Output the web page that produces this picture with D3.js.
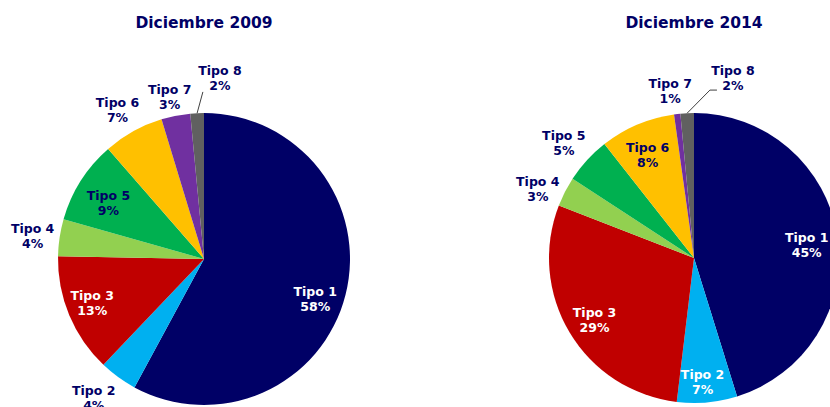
<!DOCTYPE html>
<html>
<head>
<meta charset="utf-8">
<script src="https://cdn.jsdelivr.net/npm/d3@7"></script>
<style>
  body { margin: 0; background: #fff; }
  text { font-family: "DejaVu Sans", Verdana, sans-serif; font-weight: bold; }
</style>
</head>
<body>
<script>
var tipos = ["Tipo 1", "Tipo 2", "Tipo 3", "Tipo 4", "Tipo 5", "Tipo 6", "Tipo 7", "Tipo 8"];
var valores2009 = [57.9, 4.2, 13.2, 4.1, 9.2, 6.7, 3.2, 1.5];
var valores2014 = [45.2, 6.7, 29.0, 3.3, 5.2, 8.4, 0.7, 1.5];
var titulos = ["Diciembre 2009", "Diciembre 2014"];
var colores = ["#000066", "#00b0f0", "#c00000", "#92d050", "#00b050", "#ffc000", "#7030a0", "#606060"];

var width = 830, height = 407;
var svg = d3.select("body").append("svg")
    .attr("width", width)
    .attr("height", height);

// etiquetas: dentro (true) o fuera, ajustes finos
var charts = [
  { titulo: titulos[0], valores: valores2009, cx: 204, cy: 259, r: 146,
    dentro: [true, false, true, false, true, false, false, false],
    blanco: [true, false, true, false, false, false, false, false],
    ajuste: [[-2, 11], [-9, 0], [-4, -1], [-1, 2], [3, 7], [-3, 2], [-1, 7], [24, -9]],
    guia: [[-17, 14]] },
  { titulo: titulos[1], valores: valores2014, cx: 694, cy: 258, r: 145,
    dentro: [true, true, true, false, false, true, false, false],
    blanco: [true, true, true, false, false, false, false, false],
    ajuste: [[-2, 4], [-2, 8], [0, 2], [-4, 9], [-4, 1], [-1, 4], [-4, 3], [47, -9]],
    guia: [[-23, 12], [-16, 12]] }
];

var pie = d3.pie().sort(null).value(function(d) { return d; });
var color = d3.scaleOrdinal().domain(tipos).range(colores);

charts.forEach(function(c) {
  svg.append("text")
    .attr("x", c.cx)
    .attr("y", 28)
    .attr("text-anchor", "middle")
    .style("font-size", "15.5px")
    .style("fill", "#000066")
    .text(c.titulo);

  var g = svg.append("g").attr("transform", "translate(" + c.cx + "," + c.cy + ")");
  var arc = d3.arc().innerRadius(0).outerRadius(c.r);
  var arcIn = d3.arc().innerRadius(c.r * 0.8).outerRadius(c.r * 0.8);
  var arcOut = d3.arc().innerRadius(c.r * 1.18).outerRadius(c.r * 1.18);
  var arcEdge = d3.arc().innerRadius(c.r).outerRadius(c.r);

  var arcs = pie(c.valores);

  g.selectAll("path")
    .data(arcs)
    .enter()
    .append("path")
    .attr("d", arc)
    .style("fill", function(d, i) { return color(tipos[i]); });

  var pos = arcs.map(function(d, i) {
    var p = (c.dentro[i] ? arcIn : arcOut).centroid(d);
    return [p[0] + c.ajuste[i][0], p[1] + c.ajuste[i][1]];
  });

  // linea guia para Tipo 8
  var last = arcs.length - 1;
  var ini = arcEdge.centroid(arcs[last]);
  var pts = [ini].concat(c.guia.map(function(o) { return [pos[last][0] + o[0], pos[last][1] + o[1]]; }));
  g.append("path")
    .attr("d", d3.line()(pts))
    .style("fill", "none")
    .style("stroke", "#404040")
    .style("stroke-width", 1);

  var lab = g.selectAll("text.lab")
    .data(arcs)
    .enter()
    .append("text")
    .attr("class", "lab")
    .attr("text-anchor", "middle")
    .style("font-size", "12.5px")
    .style("fill", function(d, i) { return c.blanco[i] ? "#ffffff" : "#000066"; });

  lab.append("tspan")
    .attr("x", function(d, i) { return pos[i][0]; })
    .attr("y", function(d, i) { return pos[i][1] - 3; })
    .text(function(d, i) { return tipos[i]; });
  lab.append("tspan")
    .attr("x", function(d, i) { return pos[i][0]; })
    .attr("y", function(d, i) { return pos[i][1] + 12; })
    .text(function(d) { return Math.round(d.data) + "%"; });
});
</script>
</body>
</html>
